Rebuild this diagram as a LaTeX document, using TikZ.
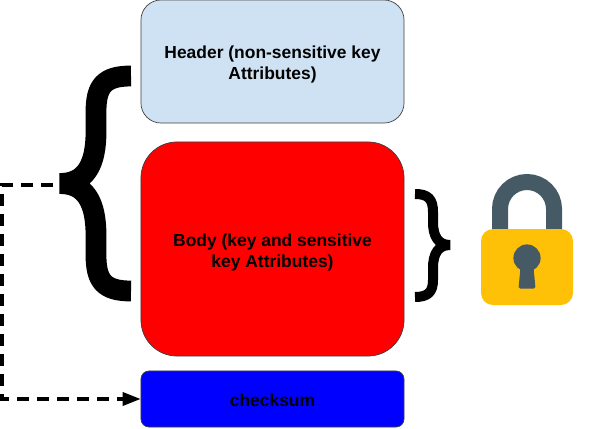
\documentclass[tikz,border=0pt]{standalone}
\usepackage{fontspec}
\setmainfont{Liberation Sans}
\usetikzlibrary{arrows.meta}
\definecolor{headerblue}{RGB}{207,226,243}
\definecolor{lockgray}{RGB}{69,90,100}
\definecolor{lockamber}{RGB}{255,193,7}
\newcommand{\droptext}{\rule{0pt}{13.5pt}}
\tikzset{
    partbox/.style={draw=black!75, line width=0.5pt, minimum width=6.575cm, inner sep=0pt, align=center, font=\fontsize{12.4}{15}\selectfont\bfseries},
    bigbrace/.style={line width=0.52cm, line join=bevel},
    smallbrace/.style={line width=0.25cm, line join=bevel},
    linkline/.style={dashed, dash pattern=on 0.3cm off 0.2cm, line width=0.08cm, -{Triangle[length=0.45cm, width=0.33cm]}},
}

\begin{document}
\begin{tikzpicture}[x=0.025cm, y=-0.025cm]
    \useasboundingbox (0, 0) rectangle (592, 428);

    \node[partbox, fill=headerblue, rounded corners=0.5cm, minimum height=3.075cm] (header) at (272.5, 61.5) {\droptext Header (non-sensitive key\\Attributes)};
    \node[partbox, fill=red, rounded corners=0.9cm, minimum height=5.35cm] (body) at (272.5, 249) {\droptext Body (key and sensitive\\key Attributes)};
    \node[partbox, fill=blue, rounded corners=0.2cm, minimum height=1.4cm] (checksum) at (272.5, 399) {\rule{0pt}{10.5pt}checksum};

    % left brace
    \draw[bigbrace] (131, 76) .. controls (104, 76) and (96, 86) .. (96, 112) -- (96, 132) .. controls (96, 164) and (86, 183.5) .. (60, 183.5) .. controls (86, 183.5) and (96, 203) .. (96, 235) -- (96, 255) .. controls (96, 281) and (104, 291) .. (131, 291);

    % right brace
    \draw[smallbrace] (415, 194) .. controls (428, 194) and (433, 199) .. (433, 212) -- (433, 222) .. controls (433, 236) and (438, 245) .. (450, 245) .. controls (438, 245) and (433, 254) .. (433, 268) -- (433, 280) .. controls (433, 292) and (428, 297) .. (415, 297);

    \coordinate (bracetip) at (53, 185);
    \coordinate (elbowtop) at (2, 185);
    \coordinate (elbowbottom) at (2, 399);
    \draw[linkline] (bracetip) -- (elbowtop) -- (elbowbottom) -- (checksum.west);

    % lock
    \draw[lockgray, line width=0.4cm] (500, 232) -- (500, 209) arc[start angle=180, end angle=0, radius=0.675cm] -- (554, 232);
    \fill[lockamber, rounded corners=0.3cm] (481, 229) rectangle (573, 305);
    \fill[lockgray] (527, 258) circle[radius=0.34cm];
    \fill[lockgray, rounded corners=0.04cm] (521, 262) -- (533, 262) -- (535.5, 288.5) -- (518.5, 288.5) -- cycle;
\end{tikzpicture}
\end{document}
